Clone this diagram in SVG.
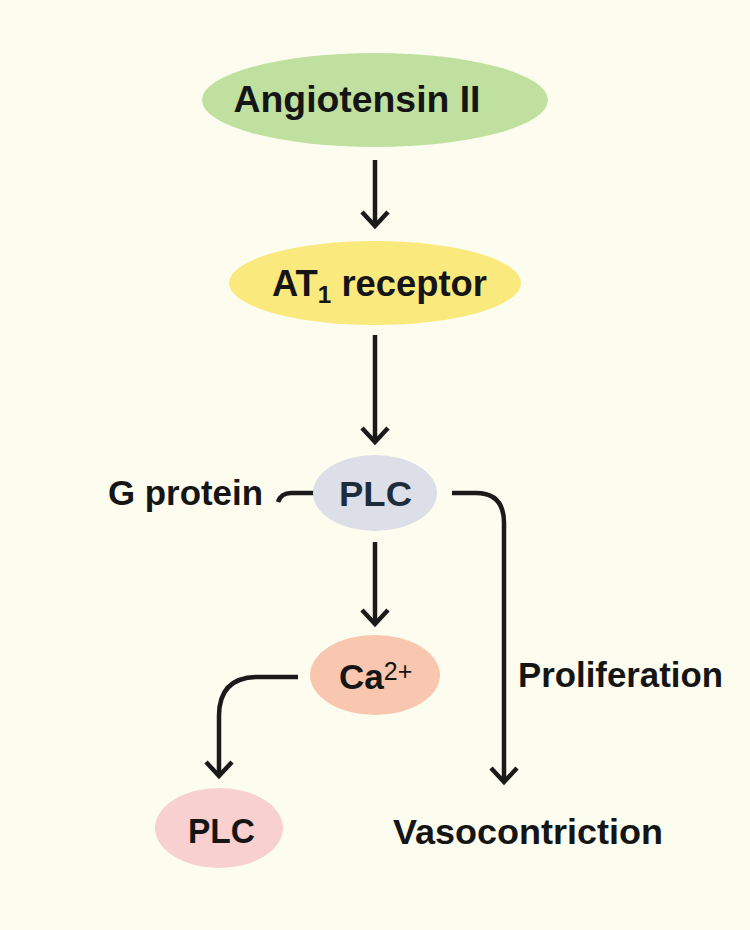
<svg xmlns="http://www.w3.org/2000/svg" width="750" height="930" viewBox="0 0 750 930">
<defs>
<style>
.t{font-family:"Liberation Sans",Arial,sans-serif;font-weight:bold;fill:#151515;}
.c{fill:none;stroke:#1a1a1a;stroke-width:4.5;stroke-linecap:butt;stroke-linejoin:round;}
</style>
<marker id="ah" markerUnits="userSpaceOnUse" viewBox="-20 -20 40 40" markerWidth="40" markerHeight="40" refX="0" refY="0" orient="auto" overflow="visible">
<path d="M-14,-13 L0,0 L-14,13" fill="none" stroke="#1a1a1a" stroke-width="4.5" stroke-linejoin="miter"/>
</marker>
</defs>
<rect width="750" height="930" fill="#FDFDEF"/>
<g id="connectors">
<path class="c" d="M375,160 L375,226" marker-end="url(#ah)"/>
<path class="c" d="M375,335 L375,442" marker-end="url(#ah)"/>
<path class="c" d="M375,542 L375,624" marker-end="url(#ah)"/>
<path class="c" d="M278,502 Q281,493 291,493 L314,493"/>
<path class="c" d="M452,493 L476,493 Q504,493 504,523 L504,782" marker-end="url(#ah)"/>
<path class="c" d="M298,677 L258,677 Q219,677 219,716 L219,776" marker-end="url(#ah)"/>
</g>
<g id="angiotensin">
<ellipse cx="375" cy="100" rx="173" ry="47" fill="#BFE09F"/>
<text class="t" x="357" y="112" font-size="37" text-anchor="middle" textLength="247" lengthAdjust="spacingAndGlyphs">Angiotensin II</text>
</g>
<g id="at1">
<ellipse cx="375" cy="283" rx="146" ry="42" fill="#FAE97C"/>
<text class="t" x="272" y="296" font-size="36" textLength="215" lengthAdjust="spacingAndGlyphs">AT<tspan font-size="24" dy="7">1</tspan><tspan dy="-7"> receptor</tspan></text>
</g>
<g id="plc1">
<ellipse cx="375" cy="493" rx="62" ry="38" fill="#DCDEE8"/>
<text class="t" x="339" y="506" font-size="35" textLength="73" lengthAdjust="spacingAndGlyphs" style="fill:#1E2D3B">PLC</text>
</g>
<g id="gprotein">
<text class="t" x="108" y="505" font-size="34.5" textLength="155" lengthAdjust="spacingAndGlyphs">G protein</text>
</g>
<g id="ca">
<ellipse cx="375" cy="675" rx="65" ry="40" fill="#F9C6AF"/>
<text class="t" x="339" y="689" font-size="35">Ca<tspan font-size="25" dy="-9" font-weight="normal">2+</tspan></text>
</g>
<g id="plc2">
<ellipse cx="219" cy="828" rx="64" ry="40" fill="#F8D0D0"/>
<text class="t" x="188" y="843" font-size="35" textLength="67" lengthAdjust="spacingAndGlyphs">PLC</text>
</g>
<g id="proliferation">
<text class="t" x="518" y="687" font-size="35" textLength="205" lengthAdjust="spacingAndGlyphs">Proliferation</text>
</g>
<g id="vaso">
<text class="t" x="393" y="844" font-size="35" textLength="270" lengthAdjust="spacingAndGlyphs">Vasocontriction</text>
</g>
</svg>
